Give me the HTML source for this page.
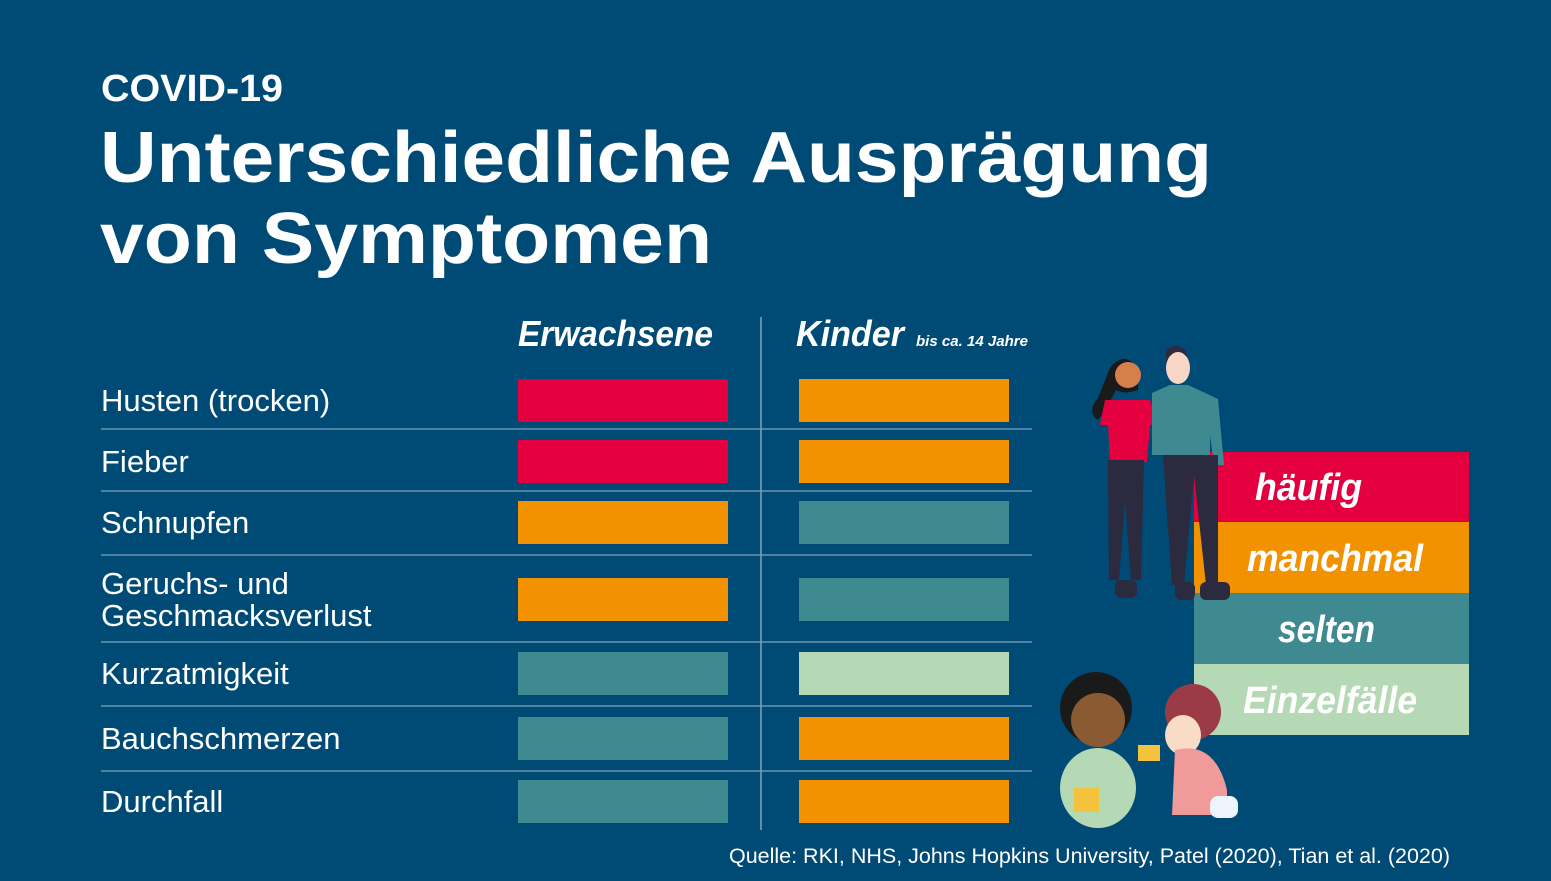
<!DOCTYPE html>
<html><head><meta charset="utf-8"><style>
html,body{margin:0;padding:0;background:#004a76;}
svg{display:block;}
text{font-family:"Liberation Sans",sans-serif;fill:#fff;}
</style></head><body>
<svg id="chart" width="1551" height="881" viewBox="0 0 1551 881">
<rect width="1551" height="881" fill="#004a76"/>
<text x="101" y="101" font-size="38" font-weight="bold" textLength="182" lengthAdjust="spacingAndGlyphs">COVID-19</text>
<text x="100" y="182" font-size="72" font-weight="bold" textLength="1112" lengthAdjust="spacingAndGlyphs">Unterschiedliche Ausprägung</text>
<text x="100" y="263" font-size="72" font-weight="bold" textLength="612" lengthAdjust="spacingAndGlyphs">von Symptomen</text>
<text x="518" y="346" font-size="36" font-weight="bold" font-style="italic" textLength="195" lengthAdjust="spacingAndGlyphs">Erwachsene</text>
<text x="796" y="346" font-size="36" font-weight="bold" font-style="italic" textLength="108" lengthAdjust="spacingAndGlyphs">Kinder</text>
<text x="916" y="346" font-size="15" font-weight="bold" font-style="italic" textLength="112" lengthAdjust="spacingAndGlyphs">bis ca. 14 Jahre</text>
<line x1="761" y1="317" x2="761" y2="830" stroke="#7fa3bb" stroke-width="1.5"/>
<g id="rows"></g>
<g>
<rect x="1194" y="452" width="275" height="71" fill="#e4003f"/>
<rect x="1194" y="522" width="275" height="72" fill="#f39200"/>
<rect x="1194" y="593" width="275" height="72" fill="#3f8a91"/>
<rect x="1194" y="664" width="275" height="71" fill="#b5d8b5"/>
<text x="1255" y="500" font-size="38" font-weight="bold" font-style="italic" textLength="107" lengthAdjust="spacingAndGlyphs">häufig</text>
<text x="1247" y="571" font-size="38" font-weight="bold" font-style="italic" textLength="176" lengthAdjust="spacingAndGlyphs">manchmal</text>
<text x="1278" y="642" font-size="38" font-weight="bold" font-style="italic" textLength="97" lengthAdjust="spacingAndGlyphs">selten</text>
<text x="1243" y="713" font-size="38" font-weight="bold" font-style="italic" textLength="174" lengthAdjust="spacingAndGlyphs">Einzelfälle</text>
</g>
<g>
<path d="M1110 368 q14-18 28 0 l0 22 q-14 5 -22 0 q-10 20 -18 30 q-12-8 0-22z" fill="#1a1a1a"/>
<circle cx="1128" cy="375" r="13" fill="#d57f4c"/>
<path d="M1105 400 h45 l8 25 h-8 l-3 37 h-37 l-2-37 h-8z" fill="#e4003f"/>
<path d="M1108 460 h36 l-3 120 h-10 l-6-80 l-6 80 h-10z" fill="#2b2a3e"/>
<path d="M1166 350 q10-8 20 0 l2 12 q-10-6-22 0z" fill="#2b2a3e"/>
<ellipse cx="1178" cy="368" rx="12" ry="16" fill="#f8d6c6"/>
<path d="M1152 393 l18-8 l18 0 l30 14 l6 66 h-10 l-4-30 l0 20 h-58z" fill="#3f8a91"/>
<path d="M1163 455 h55 l0 130 h-12 l-12-110 l-10 110 h-12z" fill="#2b2a3e"/>
<rect x="1115" y="580" width="22" height="18" rx="6" fill="#2b2a3e"/><rect x="1175" y="582" width="20" height="18" rx="6" fill="#2b2a3e"/><rect x="1200" y="582" width="30" height="18" rx="6" fill="#2b2a3e"/>
</g>
<g>
<ellipse cx="1098" cy="788" rx="38" ry="40" fill="#b5d8b5"/>
<circle cx="1096" cy="708" r="36" fill="#1a1a1a"/>
<circle cx="1098" cy="720" r="27" fill="#8a5a33"/>
<rect x="1074" y="788" width="25" height="24" fill="#f5c33b"/>
<circle cx="1193" cy="712" r="28" fill="#9a3b47"/>
<ellipse cx="1183" cy="735" rx="18" ry="20" fill="#f8dcc6"/>
<path d="M1175 750 q40-10 52 40 l0 25 h-55z" fill="#f09a9a"/>
<rect x="1138" y="745" width="22" height="16" fill="#f5c33b"/>
<rect x="1210" y="796" width="28" height="22" rx="8" fill="#eef4fb"/>
</g>
<text x="1450" y="863" font-size="21" text-anchor="end" textLength="721" lengthAdjust="spacingAndGlyphs">Quelle: RKI, NHS, Johns Hopkins University, Patel (2020), Tian et al. (2020)</text>
</svg>
<script>
const categories = ["Husten (trocken)","Fieber","Schnupfen","Geruchs- und|Geschmacksverlust","Kurzatmigkeit","Bauchschmerzen","Durchfall"];
const adultLevels = [3,3,2,2,1,1,1];
const childLevels = [2,2,1,1,0,2,2];
const levelColors = ["#b5d8b5","#3f8a91","#f39200","#e4003f"];
const rowCenters=[400,461,522,599,673,738,801];
const rowSeps=[429,491,555,642,706,771];
const NS="http://www.w3.org/2000/svg";
const g=document.getElementById('rows');
function mk(tag,attrs){const e=document.createElementNS(NS,tag);for(const k in attrs)e.setAttribute(k,attrs[k]);g.appendChild(e);return e;}
rowSeps.forEach((y,i)=>{
  const l=mk('line',{x1:101,x2:1032,y1:y,y2:y,stroke:'#7fa3bb','stroke-width':1.2});
  
  
});
categories.forEach((c,i)=>{
  const cy=rowCenters[i];
  const parts=c.split('|');
  parts.forEach((p,j)=>{
    const t=mk('text',{x:101,y:cy+11+(parts.length>1?(j-0.5)*32:0),'font-size':31});
    t.textContent=p;
    
    
  });
  const a=mk('rect',{x:518,y:cy-21,width:210,height:43,fill:levelColors[adultLevels[i]]});
  
  
  const k=mk('rect',{x:799,y:cy-21,width:210,height:43,fill:levelColors[childLevels[i]]});
  
  
});
</script>
</body></html>
